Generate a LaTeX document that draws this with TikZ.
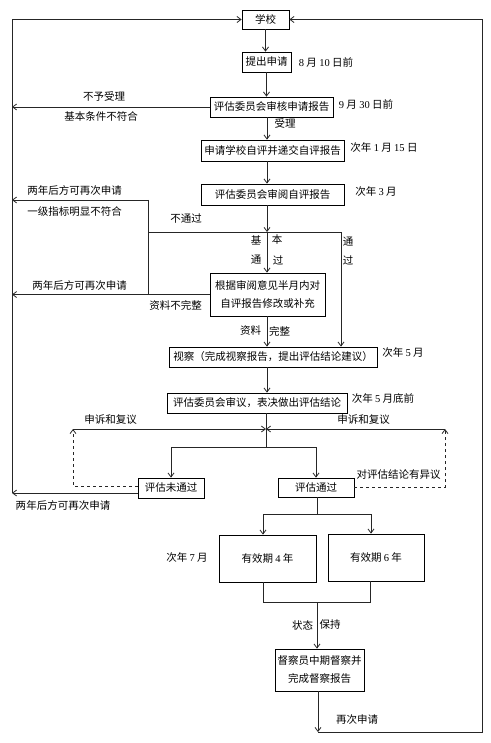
\documentclass[tikz,border=0pt]{standalone}
\usepackage{fontspec}
\setmainfont{Noto Sans CJK SC}
\newfontfamily\digfont{Liberation Serif}
\usetikzlibrary{arrows.meta}
\newcommand\nm[1]{{\digfont #1}}
\begin{document}
\begin{tikzpicture}[x=1pt,y=-1pt,
  every node/.style={font=\fontsize{10.5pt}{18pt}\selectfont, inner sep=0pt},
  box/.style={draw, line width=0.8pt, align=center},
  arr/.style={-{Straight Barb[length=4pt,width=6pt]}},
  ln/.style={line width=0.8pt, draw=black!85}]
\useasboundingbox (0,0) rectangle (490,743);

% boxes
\node[box,minimum width=47pt,minimum height=19pt] (school) at (265.5,19.5) {学校};
\node[box,minimum width=49pt,minimum height=20pt] (apply) at (266.5,62) {提出申请};
\node[box,minimum width=123pt,minimum height=20pt] (review1) at (271.5,107) {评估委员会审核申请报告};
\node[box,minimum width=143pt,minimum height=21pt] (selfeval) at (272.5,150.5) {申请学校自评并递交自评报告};
\node[box,minimum width=143pt,minimum height=21pt] (review2) at (272.5,194.5) {评估委员会审阅自评报告};
\node[box,minimum width=115pt,minimum height=43pt] (revise) at (267.5,294.5) {根据审阅意见半月内对\\自评报告修改或补充};
\node[box,minimum width=208pt,minimum height=20pt] (inspect) at (273,357) {视察（完成视察报告，提出评估结论建议）};
\node[box,minimum width=180pt,minimum height=20pt] (council) at (257,403) {评估委员会审议，表决做出评估结论};
\node[box,minimum width=66pt,minimum height=20pt] (fail) at (171,488) {评估未通过};
\node[box,minimum width=76pt,minimum height=19pt] (pass) at (316,487.5) {评估通过};
\node[box,minimum width=97pt,minimum height=47pt] (y4) at (267.5,558.5) {有效期 \nm{4} 年};
\node[box,minimum width=96pt,minimum height=47pt] (y6) at (376,557.5) {有效期 \nm{6} 年};
\node[box,minimum width=89pt,minimum height=42pt] (supervise) at (319.5,670) {督察员中期督察并\\完成督察报告};

% labels
\node (t1) at (326,62) {\nm{8} 月 \nm{10} 日前};
\node (t2) at (366,104) {\nm{9} 月 \nm{30} 日前};
\node (t3) at (104,96) {不予受理};
\node (t4) at (101,116) {基本条件不符合};
\node (t5) at (285,123) {受理};
\node (t6) at (384,148) {次年 \nm{1} 月 \nm{15} 日};
\node (t7) at (376,192) {次年 \nm{3} 月};
\node (t8) at (74.5,191) {两年后方可再次申请};
\node (t9) at (74.5,212) {一级指标明显不符合};
\node (t10) at (186,219) {不通过};
\node (t11) at (256,240) {基};
\node (t12) at (277,240) {本};
\node (t13) at (256,260) {通};
\node (t14) at (278,260) {过};
\node (t15) at (348,242) {通};
\node (t16) at (348,260) {过};
\node (t17) at (79.5,285) {两年后方可再次申请};
\node (t18) at (175.5,305) {资料不完整};
\node (t19) at (250.5,331) {资料};
\node (t20) at (279.5,331) {完整};
\node (t21) at (403,353) {次年 \nm{5} 月};
\node (t22) at (383,399) {次年 \nm{5} 月底前};
\node (t23) at (110.5,420) {申诉和复议};
\node (t24) at (363.5,420) {申诉和复议};
\node (t25) at (398.5,475) {对评估结论有异议};
\node (t26) at (63,505) {两年后方可再次申请};
\node (t27) at (187,558) {次年 \nm{7} 月};
\node (t28) at (302.5,625) {状态};
\node (t29) at (330,625) {保持};
\node (t30) at (357,720) {再次申请};

% helper coordinates
\coordinate (L) at (12,0);
\coordinate (R) at (482,0);
\coordinate (spine) at (267,0);
\coordinate (jl) at (148,232);
\coordinate (jm) at (267,232);
\coordinate (jr) at (341,232);
\coordinate (ra) at (148,200);
\coordinate (al) at (73,429);
\coordinate (am) at (266,429);
\coordinate (ar) at (445,429);
\coordinate (fork) at (266,447);
\coordinate (f2m) at (317,514);
\coordinate (f2l) at (263,514);
\coordinate (f2r) at (371,514);
\coordinate (b2l) at (263,602);
\coordinate (b2m) at (317,602);
\coordinate (b2r) at (370,602);
\coordinate (endp) at (318,732);

% main spine
\draw[ln,arr] (school.south) -- (school.south |- apply.north);
\draw[ln,arr] (apply.south) -- (apply.south |- review1.north);
\draw[ln,arr] (review1.south -| spine) -- (selfeval.north -| spine);
\draw[ln,arr] (selfeval.south -| spine) -- (review2.north -| spine);
\draw[ln,arr] (review2.south -| spine) -- (jm);
\draw[ln] (jl) -- (jr);
\draw[ln,arr] (jm) -- (revise.north -| spine);
\draw[ln,arr] (jr) -- (inspect.north -| jr);
\draw[ln,arr] (revise.south -| spine) -- (inspect.north -| spine);
\draw[ln,arr] (inspect.south -| spine) -- (council.north -| spine);

% rejections to left loop
\draw[ln,arr] (review1.west) -- (review1.west -| L);
\draw[ln,arr] (ra) -- (ra -| L);
\draw[ln] (ra) -- (ra |- revise.west);
\draw[ln,arr] (revise.west) -- (revise.west -| L);
\draw[ln,arr] ([yshift=-5pt]fail.west) -- ([yshift=-5pt]fail.west -| L);
\draw[ln,arr] ([yshift=-5pt]fail.west -| L) -- (L |- school.west) -- (school.west);

% council and appeals
\draw[ln] (council.south -| am) -- (fork);
\draw[ln,arr] (al) -- (am);
\draw[ln,arr] (ar) -- (am);
\draw[ln,arr] (fork) -| (fail.north);
\draw[ln,arr] (fork) -| (pass.north);
\draw[ln,dashed,arr] ([yshift=2pt]fail.west) -| (al);
\draw[ln,dashed,arr] (pass.east) -| (ar);

% pass branch
\draw[ln] (pass.south -| f2m) -- (f2m);
\draw[ln] (f2l) -- (f2r);
\draw[ln,arr] (f2l) -- (f2l |- y4.north);
\draw[ln,arr] (f2r) -- (f2r |- y6.north);
\draw[ln] (b2l |- y4.south) -- (b2l) -- (b2r) -- (b2r |- y6.south);
\draw[ln,arr] (b2m) -- (b2m |- supervise.north);
\draw[ln,arr] (supervise.south -| endp) -- (endp);
\draw[ln,arr] (endp) -- (endp -| R) -- (R |- school.east) -- (school.east);
\end{tikzpicture}
\end{document}
